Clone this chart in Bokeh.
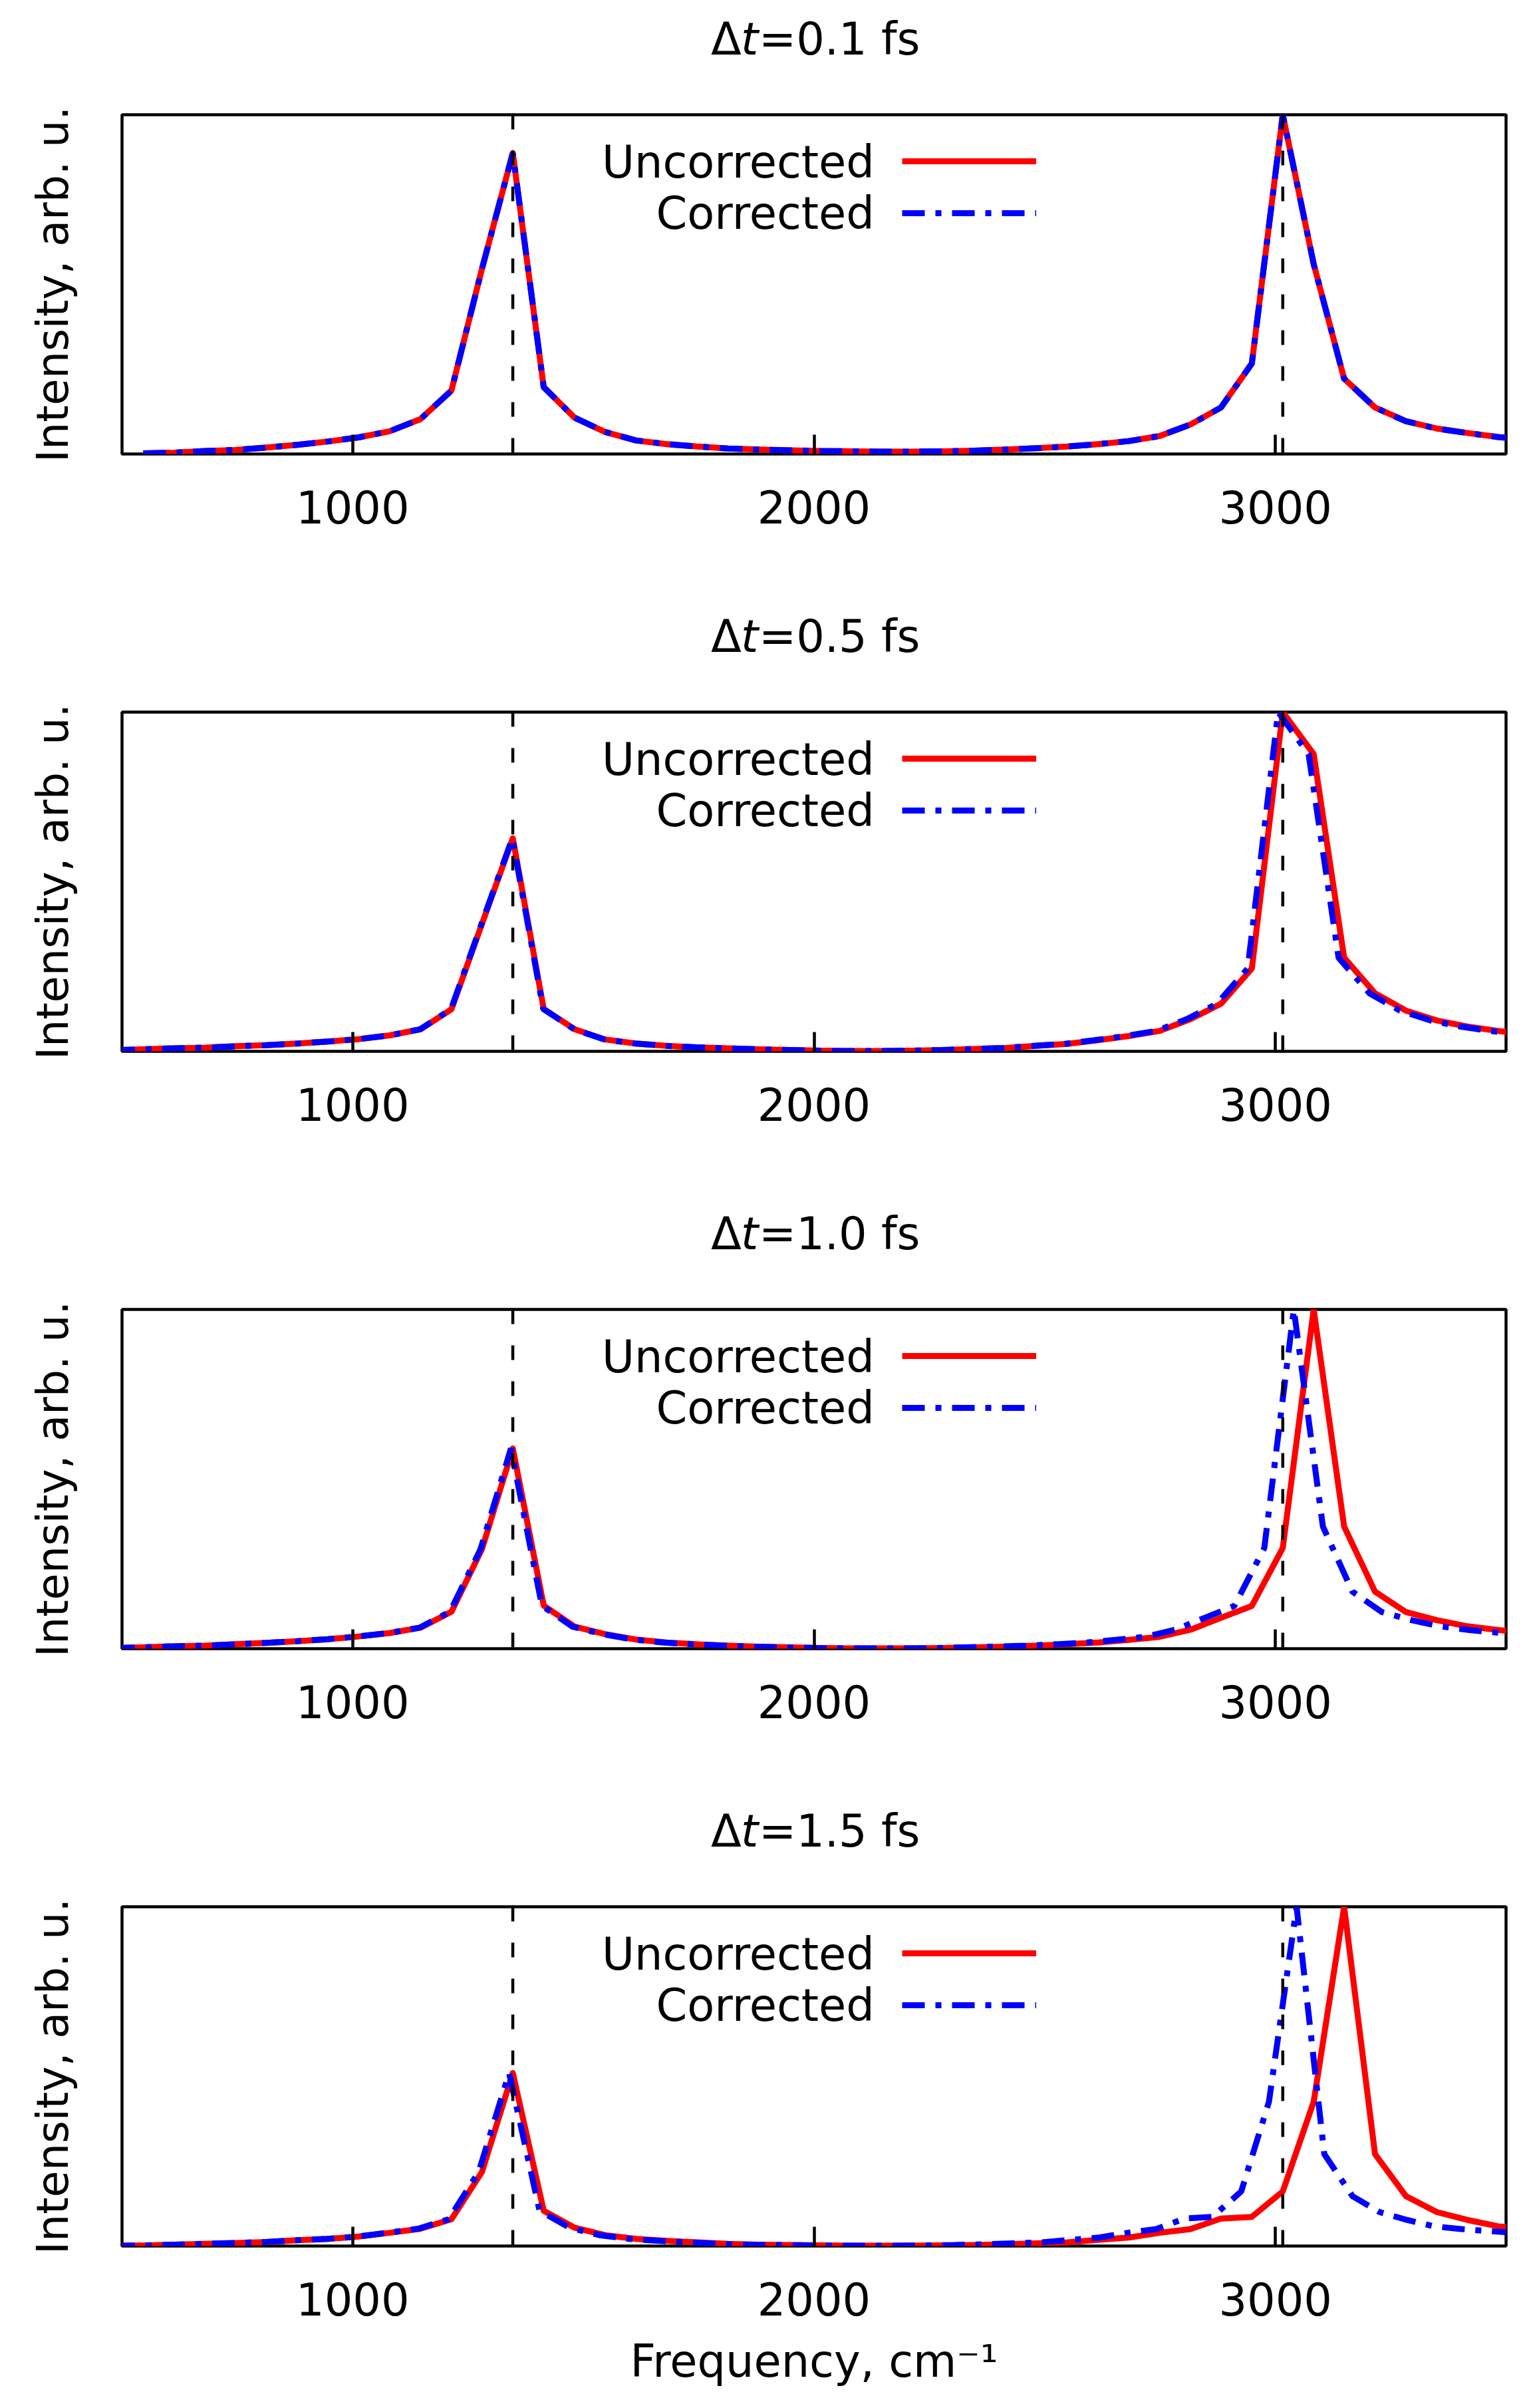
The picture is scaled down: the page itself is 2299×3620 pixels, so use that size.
from bokeh.embed import file_html
from bokeh.layouts import column
from bokeh.models import Label, Legend, LegendItem, Range1d, Span
from bokeh.plotting import figure
from bokeh.resources import INLINE

nan = float("nan")

# frequency grid of the uncorrected spectra, cm^-1
freq = [479, 546, 613, 680, 746, 813, 880, 947, 1013, 1080, 1147, 1214, 1280,
        1347, 1414, 1481, 1547, 1614, 1681, 1748, 1814, 1881, 1948, 2015, 2081,
        2148, 2215, 2282, 2348, 2415, 2482, 2549, 2615, 2682, 2749, 2816, 2882,
        2949, 3016, 3083, 3149, 3216, 3283, 3350, 3416, 3483, 3550, 3617, 3684]

# corrected frequency axes, one per time step
freq_corr_01 = [479, 546, 613, 680, 746, 813, 880, 947, 1013, 1080, 1147, 1214, 1280,
                1347, 1414, 1481, 1547, 1614, 1681, 1748, 1814, 1881, 1948, 2015, 2081,
                2148, 2215, 2282, 2348, 2415, 2482, 2549, 2615, 2682, 2749, 2816, 2882,
                2949, 3016, 3083, 3149, 3216, 3282, 3349, 3415, 3482, 3549, 3616, 3683]
freq_corr_05 = [479, 546, 613, 680, 746, 813, 880, 947, 1013, 1080, 1146, 1213, 1279,
                1346, 1413, 1480, 1546, 1612, 1679, 1746, 1812, 1879, 1945, 2012, 2078,
                2144, 2211, 2278, 2343, 2410, 2476, 2543, 2608, 2675, 2741, 2808, 2873,
                2940, 3006, 3072, 3137, 3204, 3270, 3336, 3401, 3467, 3533, 3600, 3666]
freq_corr_10 = [479, 546, 613, 680, 745, 812, 879, 946, 1011, 1078, 1145, 1211, 1277,
                1343, 1410, 1476, 1542, 1608, 1674, 1740, 1805, 1871, 1937, 2003, 2068,
                2133, 2199, 2264, 2329, 2394, 2459, 2525, 2589, 2654, 2718, 2783, 2847,
                2911, 2976, 3040, 3103, 3167, 3231, 3295, 3357, 3421, 3484, 3547, 3611]
freq_corr_15 = [479, 545, 612, 679, 745, 811, 878, 944, 1010, 1076, 1142, 1208, 1273,
                1339, 1405, 1470, 1535, 1600, 1665, 1730, 1794, 1859, 1924, 1988, 2051,
                2115, 2179, 2243, 2305, 2368, 2431, 2494, 2556, 2618, 2680, 2742, 2803,
                2864, 2926, 2986, 3046, 3106, 3167, 3226, 3285, 3344, 3403, 3462, 3520]

# normalised intensities (same for both curves of a panel)
inten_01 = [nan, 0.002, 0.004, 0.009, 0.012, 0.019, 0.027, 0.037, 0.049, 0.067, 0.103, 0.187, 0.545,
            0.887, 0.197, 0.107, 0.065, 0.040, 0.029, 0.022, 0.016, 0.013, 0.011, 0.009, 0.008,
            0.007, 0.007, 0.008, 0.010, 0.013, 0.017, 0.022, 0.029, 0.038, 0.053, 0.087, 0.137,
            0.267, 1.0, 0.56, 0.222, 0.137, 0.097, 0.075, 0.062, 0.050, 0.042, 0.036, 0.031]
inten_05 = [0.003, 0.006, 0.009, 0.011, 0.015, 0.018, 0.023, 0.029, 0.036, 0.047, 0.065, 0.124, 0.375,
            0.628, 0.125, 0.065, 0.035, 0.023, 0.016, 0.012, 0.009, 0.006, 0.004, 0.002, 0.001,
            0.001, 0.002, 0.004, 0.007, 0.010, 0.016, 0.022, 0.033, 0.045, 0.060, 0.095, 0.140,
            0.244, 1.0, 0.876, 0.276, 0.171, 0.120, 0.091, 0.073, 0.060, 0.049, 0.042, 0.036]
inten_10 = [0.002, 0.004, 0.007, 0.009, 0.013, 0.017, 0.022, 0.028, 0.036, 0.046, 0.062, 0.109, 0.293,
            0.590, 0.127, 0.065, 0.043, 0.027, 0.018, 0.013, 0.009, 0.006, 0.004, 0.002, 0.001,
            0.001, 0.001, 0.002, 0.004, 0.006, 0.009, 0.013, 0.018, 0.026, 0.035, 0.056, 0.091,
            0.126, 0.297, 1.0, 0.360, 0.168, 0.108, 0.084, 0.066, 0.055, 0.047, 0.041, 0.036]
inten_15 = [0.001, 0.0015, 0.004, 0.0065, 0.009, 0.012, 0.017, 0.021, 0.028, 0.039, 0.051, 0.079, 0.218,
            0.510, 0.104, 0.054, 0.032, 0.021, 0.015, 0.011, 0.0065, 0.004, 0.003, 0.002, 0.001,
            0.001, 0.001, 0.002, 0.003, 0.005, 0.008, 0.011, 0.018, 0.025, 0.039, 0.050, 0.081,
            0.086, 0.161, 0.425, 1.0, 0.271, 0.147, 0.100, 0.077, 0.058, 0.050, 0.044, 0.039]

time_steps = ["0.1", "0.5", "1.0", "1.5"]
corrected = [freq_corr_01, freq_corr_05, freq_corr_10, freq_corr_15]
intensities = [inten_01, inten_05, inten_10, inten_15]

# reference frequencies (dashed lines)
ref_freq = [1347, 3016]
x_ticks = [1000, 2000, 3000]

FONT = "DejaVu Sans"
FS = "67px"
LEFT = 183
RIGHT = 20


def title_strip(dt, height):
    # thin figure above a panel that only carries its "Δt=... fs" title
    t = figure(frame_width=2081, frame_height=height, x_range=Range1d(500, 3500),
               y_range=Range1d(0, 1), output_backend="svg", toolbar_location=None,
               x_axis_location=None, y_axis_location=None,
               min_border_left=LEFT, min_border_right=RIGHT,
               min_border_top=0, min_border_bottom=0)
    t.outline_line_color = None
    t.xgrid.visible = False
    t.ygrid.visible = False
    t.background_fill_color = "white"
    t.border_fill_color = "white"
    yb = 104.0 / height
    for txt, style, off in [("\u0394", "normal", -155), ("t", "italic", -110),
                            ("=" + dt + " fs", "normal", -83)]:
        t.add_layout(Label(x=2000, y=yb, x_offset=off, text=txt,
                           text_align="left", text_baseline="alphabetic",
                           text_font=FONT, text_font_style=style,
                           text_font_size=FS, text_color="black"))
    return t


def panel(fc, inten, last=False):
    p = figure(frame_width=2081, frame_height=510, x_range=Range1d(500, 3500),
               y_range=Range1d(0, 1), output_backend="svg", toolbar_location=None,
               min_border_left=LEFT, min_border_right=RIGHT, min_border_top=10,
               min_border_bottom=240 if last else 224)
    p.background_fill_color = "white"
    p.border_fill_color = "white"
    p.outline_line_color = "black"
    p.outline_line_width = 4.5
    p.xgrid.visible = False
    p.ygrid.visible = False

    ax = p.xaxis[0]
    ax.ticker = x_ticks
    ax.axis_line_color = None
    ax.major_tick_in = 29
    ax.major_tick_out = 0
    ax.major_tick_line_width = 4.5
    ax.major_tick_line_color = "black"
    ax.minor_tick_line_color = None
    ax.major_label_standoff = 54
    ax.major_label_text_font = FONT
    ax.major_label_text_font_size = FS
    ax.major_label_text_color = "black"
    if last:
        ax.axis_label = "Frequency, cm\u207b\u00b9"
        ax.axis_label_text_font = FONT
        ax.axis_label_text_font_size = FS
        ax.axis_label_text_font_style = "normal"
        ax.axis_label_text_color = "black"
        ax.axis_label_standoff = 27

    ay = p.yaxis[0]
    ay.ticker = []
    ay.axis_line_color = None
    ay.major_tick_in = 0
    ay.major_tick_out = 0
    ay.minor_tick_line_color = None
    ay.major_label_standoff = 0
    ay.axis_label = "Intensity, arb. u."
    ay.axis_label_text_font = FONT
    ay.axis_label_text_font_size = "65px"
    ay.axis_label_text_font_style = "normal"
    ay.axis_label_text_color = "black"
    ay.axis_label_standoff = 67

    for f in ref_freq:
        p.add_layout(Span(location=f, dimension="height", line_color="black",
                          line_width=4.5, line_dash="22 32"))

    r_unc = p.line(freq, inten, line_color="red", line_width=9, line_join="round")
    r_cor = p.line(fc, inten, line_color="blue", line_width=9, line_dash="34 16 9 16")

    # legend handles (text is drawn separately, left of the handles)
    leg = Legend(items=[LegendItem(label="", renderers=[r_unc]),
                        LegendItem(label="", renderers=[r_cor])],
                 location=(1173, 323), glyph_width=202, glyph_height=78,
                 label_width=0, label_standoff=0, label_height=10,
                 label_text_font_size="10px", padding=0, margin=0, spacing=0,
                 border_line_color=None, background_fill_alpha=0)
    p.add_layout(leg)
    for txt, yy in [("Uncorrected", 0.860), ("Corrected", 0.708)]:
        p.add_layout(Label(x=2131, y=yy, text=txt, text_align="right",
                           text_baseline="middle", text_font=FONT,
                           text_font_size=FS, text_color="black"))
    return p


rows = []
for i, dt in enumerate(time_steps):
    rows.append(title_strip(dt, 162 if i == 0 else 154))
    rows.append(panel(corrected[i], intensities[i], last=(i == len(time_steps) - 1)))

layout = column(*rows, spacing=0)
open("out.html", "w").write(file_html(layout, INLINE))
